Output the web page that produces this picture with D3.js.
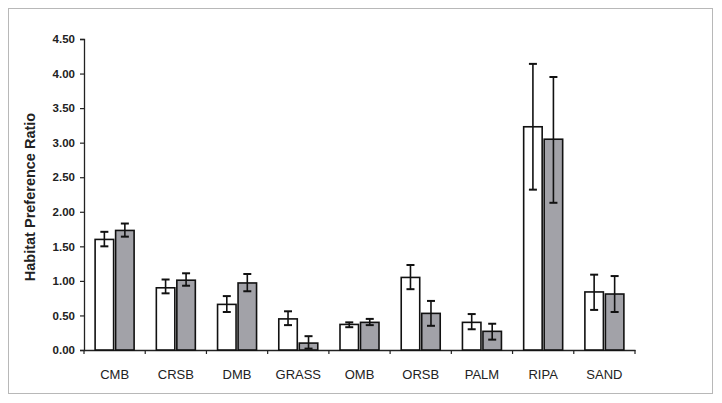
<!DOCTYPE html>
<html><head><meta charset="utf-8">
<script src="https://cdn.jsdelivr.net/npm/d3@7"></script>
<style>body{margin:0;background:#fff}svg{display:block}</style>
</head><body><svg id="c" width="722" height="403"></svg>
<script>
const categories = ["CMB","CRSB","DMB","GRASS","OMB","ORSB","PALM","RIPA","SAND"];
const whiteVals = [1.60,0.90,0.66,0.45,0.37,1.05,0.40,3.23,0.84];
const whiteLow  = [1.50,0.82,0.55,0.36,0.33,0.88,0.30,2.32,0.58];
const whiteHigh = [1.71,1.02,0.78,0.56,0.40,1.23,0.52,4.14,1.09];
const grayVals  = [1.73,1.01,0.97,0.10,0.40,0.53,0.27,3.05,0.81];
const grayLow   = [1.64,0.93,0.85,0.02,0.36,0.35,0.15,2.13,0.55];
const grayHigh  = [1.83,1.11,1.10,0.20,0.45,0.71,0.38,3.95,1.07];
const yTicks = [0,0.5,1,1.5,2,2.5,3,3.5,4,4.5];

const svg = d3.select("#c");
svg.append("rect").attr("x",8.5).attr("y",8.5).attr("width",704).attr("height",385)
  .attr("fill","#fff").attr("stroke","#b8b8b8").attr("stroke-width",1);

const x0 = 84, x1 = 635, yb = 350, yt = 39;
const x = d3.scaleBand().domain(categories).range([x0,x1]);
const y = d3.scaleLinear().domain([0,4.5]).range([yb,yt]);

const yAxis = d3.axisLeft(y).tickValues(yTicks).tickFormat(d3.format(".2f")).tickSize(4).tickPadding(5);
const gy = svg.append("g").attr("transform",`translate(${x0},0)`).call(yAxis);
gy.select(".domain").attr("stroke","#222").attr("stroke-width",1.3);
gy.selectAll(".tick line").attr("stroke","#222").attr("stroke-width",1.2);
gy.selectAll("text").attr("font-family","Liberation Sans, Arial, sans-serif").attr("font-size",11.5).attr("font-weight","bold").attr("fill","#222");

const xAxis = d3.axisBottom(x).tickSize(0).tickPadding(20);
const gx = svg.append("g").attr("transform",`translate(0,${yb})`).call(xAxis);
gx.select(".domain").attr("stroke","#222").attr("stroke-width",1.3);
gx.selectAll("text").attr("font-family","Liberation Sans, Arial, sans-serif").attr("font-size",13).attr("fill","#222");
// boundary ticks
svg.append("g").selectAll("line").data(categories.concat(["_end"])).join("line")
  .attr("x1",(d,i)=> x0 + i*x.bandwidth()).attr("x2",(d,i)=> x0 + i*x.bandwidth())
  .attr("y1",yb).attr("y2",yb+4).attr("stroke","#222").attr("stroke-width",1.2);

svg.append("text").attr("transform",`translate(35,197) rotate(-90)`).attr("text-anchor","middle")
  .attr("font-family","Liberation Sans, Arial, sans-serif").attr("font-size",14.5).attr("font-weight","bold")
  .attr("fill","#222").text("Habitat Preference Ratio");

const bw = 18.5;
const series = [
  {vals:whiteVals, lo:whiteLow, hi:whiteHigh, fill:"#ffffff", off:-bw-1},
  {vals:grayVals, lo:grayLow, hi:grayHigh, fill:"#a2a2a8", off:1}
];
series.forEach(s=>{
  const g = svg.append("g");
  g.selectAll("rect").data(categories).join("rect")
    .attr("x",d=> x(d)+x.bandwidth()/2 + s.off)
    .attr("y",(d,i)=> y(s.vals[i]))
    .attr("width",bw)
    .attr("height",(d,i)=> yb - y(s.vals[i]))
    .attr("fill",s.fill).attr("stroke","#111").attr("stroke-width",1.6);
  const eb = svg.append("g").attr("stroke","#111").attr("stroke-width",1.6);
  categories.forEach((d,i)=>{
    const cx = x(d)+x.bandwidth()/2 + s.off + bw/2;
    eb.append("line").attr("x1",cx).attr("x2",cx).attr("y1",y(s.lo[i])).attr("y2",y(s.hi[i]));
    [s.lo[i], s.hi[i]].forEach(v=>{
      eb.append("line").attr("x1",cx-4).attr("x2",cx+4).attr("y1",y(v)).attr("y2",y(v)).attr("stroke-width",2);
    });
  });
});
</script></body></html>
